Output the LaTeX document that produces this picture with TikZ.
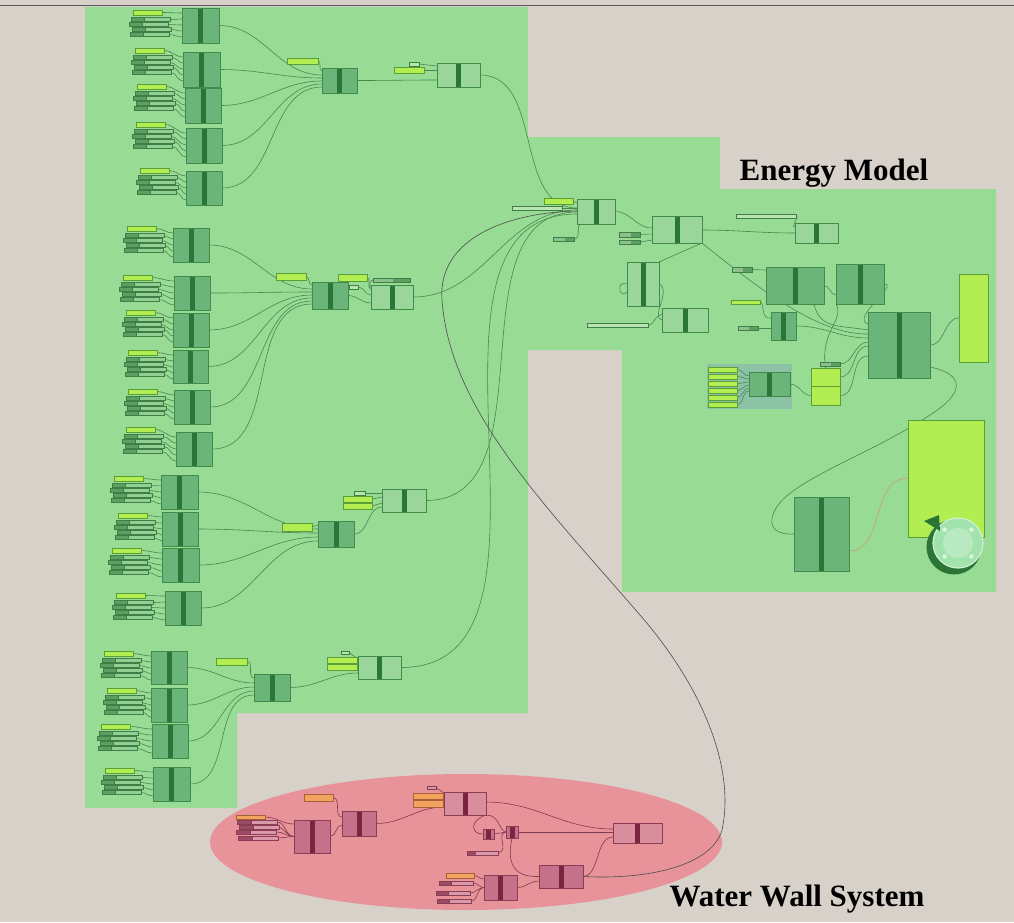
\documentclass[tikz,border=0pt]{standalone}
\usepackage{fontspec}
\setmainfont{Liberation Serif}
\usetikzlibrary{calc}
\definecolor{bgc}{HTML}{D7D1CA}
\definecolor{grpc}{HTML}{97DB95}
\definecolor{redc}{HTML}{E8939A}
\definecolor{tealc}{HTML}{8CC2A6}
\definecolor{cdk}{HTML}{6BB47A}
\definecolor{clt}{HTML}{9AD69A}
\definecolor{cbd}{HTML}{3F8C4A}
\definecolor{cbar}{HTML}{2B7636}
\definecolor{ylw}{HTML}{B2EE52}
\definecolor{ybd}{HTML}{5A9F36}
\definecolor{pdk}{HTML}{5C9F62}
\definecolor{plt}{HTML}{92CF92}
\definecolor{pbd}{HTML}{3F7F46}
\definecolor{wcol}{HTML}{4A8650}
\definecolor{rdk}{HTML}{C57189}
\definecolor{rlt}{HTML}{D98E9E}
\definecolor{rbd}{HTML}{8A3D55}
\definecolor{rbarc}{HTML}{7A2540}
\definecolor{orgc}{HTML}{F2A35E}
\definecolor{obd}{HTML}{A8603A}
\definecolor{rpdk}{HTML}{9C4B65}
\definecolor{rplt}{HTML}{D89AAA}
\definecolor{rwcol}{HTML}{7E3A4E}
\definecolor{palec}{HTML}{B9E6B0}
\definecolor{tanc}{HTML}{C9A46A}
\definecolor{dialc}{HTML}{A2E2AC}
\pgfdeclarelayer{back}
\pgfdeclarelayer{wires}
\pgfsetlayers{back,wires,main}
\newcommand\gnode[6]{\node[#6, minimum width={((#4)-(#2))*1pt}, minimum height={((#5)-(#3))*1pt}] (#1) at ({((#2)+(#4))/2},{((#3)+(#5))/2}) {};}
\newcommand\ins[3]{%
 \begin{pgfonlayer}{wires}
 \draw[wire] ({#1+29},{#2+2.5}) to[out=0,in=180] ([yshift=-5pt]#3.north west);
 \foreach \k/\o in {0/-2,1/-4,2/-1,3/-3}{%
   \draw[wire] ({#1+\o+39},{#2+9.5+5*\k}) to[out=0,in=180] ([yshift={-(11+6*\k)*1pt}]#3.north west);}
 \end{pgfonlayer}
 \foreach \k/\o in {0/-2,1/-4,2/-1,3/-3}{%
   \draw[pillA] ({#1+\o},{#2+7.5+5*\k}) rectangle ++(13,4);
   \draw[pillB] ({#1+\o+13},{#2+7.5+5*\k}) rectangle ++(26,4);}
 \draw[ybox] (#1,#2) rectangle ++(29,5);}
\begin{document}
\begin{tikzpicture}[x=1pt,y=-1pt,
  comp/.style={draw=cbd, fill=cdk, line width=0.7pt, inner sep=0pt, outer sep=0pt,
    path picture={\fill[cbar] ([xshift=-2.5pt]path picture bounding box.south) rectangle ([xshift=2.5pt]path picture bounding box.north);}},
  compl/.style={comp, fill=clt},
  rcomp/.style={draw=rbd, fill=rdk, line width=0.7pt, inner sep=0pt, outer sep=0pt,
    path picture={\fill[rbarc] ([xshift=-2.5pt]path picture bounding box.south) rectangle ([xshift=2.5pt]path picture bounding box.north);}},
  rcompl/.style={rcomp, fill=rlt},
  ybox/.style={draw=ybd, fill=ylw, line width=0.6pt, inner sep=0pt, outer sep=0pt},
  obox/.style={draw=obd, fill=orgc, line width=0.6pt, inner sep=0pt, outer sep=0pt},
  palebox/.style={draw=pbd, fill=palec, line width=0.5pt, inner sep=0pt, outer sep=0pt},
  pillbox/.style={draw=pbd, fill=pdk, line width=0.5pt, inner sep=0pt, outer sep=0pt,
    path picture={\fill[plt!80!gray] (path picture bounding box.south west) rectangle ($(path picture bounding box.north west)!0.55!(path picture bounding box.north east)$);}},
  rpillbox/.style={draw=rbd, fill=rplt, line width=0.5pt, inner sep=0pt, outer sep=0pt,
    path picture={\fill[rpdk] (path picture bounding box.south west) rectangle ($(path picture bounding box.north west)!0.3!(path picture bounding box.north east)$);}},
  smallbox/.style={draw=pbd, fill=palec, line width=0.5pt, inner sep=0pt, outer sep=0pt},
  rsmallbox/.style={draw=rbd, fill=rplt, line width=0.5pt, inner sep=0pt, outer sep=0pt},
  pillA/.style={draw=pbd, fill=pdk, line width=0.4pt},
  pillB/.style={draw=pbd, fill=plt, line width=0.4pt},
  rpillA/.style={draw=rbd, fill=rpdk, line width=0.4pt},
  rpillB/.style={draw=rbd, fill=rplt, line width=0.4pt},
  wire/.style={draw=wcol, line width=0.6pt},
  rwire/.style={draw=rwcol, line width=0.6pt},
  lwire/.style={draw=black!70, line width=0.6pt},
  lbl/.style={font=\fontsize{31}{31}\selectfont\bfseries, anchor=base, inner sep=0pt}]
\useasboundingbox (0,0) rectangle (1014,922);
\begin{pgfonlayer}{back}
\fill[bgc] (0,0) rectangle (1014,922);
\draw[black!65, line width=1.3pt] (0,5.5) -- (1014,5.5);
\fill[grpc] (85,7) -- (528,7) -- (528,137) -- (720,137) -- (720,189) -- (996,189) -- (996,592) -- (622,592) -- (622,350) -- (528,350) -- (528,713) -- (237,713) -- (237,808) -- (85,808) -- cycle;
\fill[redc] (466,842) ellipse [x radius=256, y radius=68];
\fill[tealc] (707,364) rectangle (792,409);
\end{pgfonlayer}

% ---------------- group A
\gnode{A1}{182}{8}{219}{43}{comp}
\gnode{A2}{183}{52}{220}{87}{comp}
\gnode{A3}{185}{88}{221}{123}{comp}
\gnode{A4}{186}{128}{222}{163}{comp}
\gnode{A5}{186}{171}{222}{205}{comp}
\ins{133}{10}{A1}
\ins{135}{48}{A2}
\ins{137}{84}{A3}
\ins{136}{122}{A4}
\ins{140}{168}{A5}
\gnode{P1}{287}{58}{318}{64}{ybox}
\gnode{M1}{322}{68}{357}{93}{comp}
\gnode{N1}{437}{63}{480}{87}{compl}
\gnode{NY1}{394}{67}{424}{73}{ybox}
\gnode{NS1}{409}{62}{419}{66}{smallbox}

% ---------------- group B
\gnode{B1}{173}{228}{209}{262}{comp}
\gnode{B2}{174}{276}{210}{310}{comp}
\gnode{B3}{173}{313}{209}{347}{comp}
\gnode{B4}{173}{350}{208}{383}{comp}
\gnode{B5}{174}{390}{210}{424}{comp}
\gnode{B6}{176}{432}{212}{466}{comp}
\ins{127}{226}{B1}
\ins{123}{275}{B2}
\ins{126}{310}{B3}
\ins{128}{350}{B4}
\ins{128}{389}{B5}
\ins{126}{427}{B6}
\gnode{P2}{276}{273}{306}{280}{ybox}
\gnode{M2}{312}{282}{348}{309}{comp}
\gnode{P2b}{338}{274}{367}{281}{ybox}
\gnode{S2}{349}{285}{358}{289}{smallbox}
\gnode{AR2}{373}{278}{410}{282}{pillbox}
\gnode{N2}{371}{285}{413}{309}{compl}

% ---------------- group C
\gnode{C1}{161}{475}{198}{509}{comp}
\gnode{C2}{162}{512}{198}{546}{comp}
\gnode{C3}{162}{548}{199}{582}{comp}
\gnode{C4}{165}{591}{201}{625}{comp}
\ins{114}{476}{C1}
\ins{118}{513}{C2}
\ins{112}{548}{C3}
\ins{116}{593}{C4}
\gnode{P3}{282}{523}{312}{531}{ybox}
\gnode{M3}{318}{521}{354}{547}{comp}
\gnode{N3}{382}{489}{426}{512}{compl}
\gnode{NY3a}{343}{496}{372}{502}{ybox}
\gnode{NY3b}{343}{503}{372}{509}{ybox}
\gnode{NS3}{354}{491}{365}{495}{smallbox}

% ---------------- group D
\gnode{D1}{151}{651}{187}{684}{comp}
\gnode{D2}{151}{688}{187}{722}{comp}
\gnode{D3}{152}{724}{188}{758}{comp}
\gnode{D4}{153}{767}{190}{801}{comp}
\ins{104}{651}{D1}
\ins{107}{688}{D2}
\ins{101}{724}{D3}
\ins{105}{768}{D4}
\gnode{P4}{216}{658}{247}{665}{ybox}
\gnode{M4}{254}{674}{290}{701}{comp}
\gnode{N4}{358}{656}{401}{679}{compl}
\gnode{NY4a}{327}{657}{357}{663}{ybox}
\gnode{NY4b}{327}{664}{357}{670}{ybox}
\gnode{NS4}{341}{651}{349}{654}{smallbox}

% ---------------- energy model
\gnode{E1}{577}{199}{615}{224}{compl}
\gnode{EY1}{544}{198}{573}{204}{ybox}
\gnode{EL1}{512}{206}{562}{210}{palebox}
\gnode{EP1}{553}{237}{574}{241}{pillbox}
\gnode{E2}{652}{216}{702}{243}{compl}
\gnode{EP2a}{619}{232}{640}{237}{pillbox}
\gnode{EP2b}{619}{240}{640}{244}{pillbox}
\gnode{E3}{795}{223}{838}{243}{compl}
\gnode{EL3}{736}{214}{796}{218}{palebox}
\gnode{E4}{627}{262}{659}{306}{compl}
\gnode{E5}{662}{308}{708}{332}{compl}
\gnode{EL5}{587}{323}{648}{327}{palebox}
\gnode{E6}{766}{267}{824}{304}{comp}
\gnode{EP6}{732}{267}{752}{272}{pillbox}
\gnode{E7}{836}{264}{884}{304}{comp}
\gnode{EY6}{731}{300}{760}{304}{ybox}
\gnode{E8}{771}{312}{796}{340}{comp}
\gnode{EP8}{738}{326}{758}{330}{pillbox}
\gnode{E9}{868}{312}{930}{378}{comp}
\gnode{Y1}{959}{274}{988}{362}{ybox}
\foreach \i in {0,...,5}{\gnode{SB\i}{708}{367+7*\i}{737}{372+7*\i}{ybox}}
\gnode{E11}{749}{372}{790}{396}{comp}
\gnode{YB1}{811}{368}{840}{386}{ybox}
\gnode{YB2}{811}{386}{840}{405}{ybox}
\gnode{EPY}{820}{362}{840}{366}{pillbox}
\gnode{Y2}{908}{420}{984}{537}{ybox}
\gnode{E10}{794}{497}{849}{571}{comp}
\fill[cbar] (954,547) circle (27.5);
\node[circle, fill=dialc, draw=white!50!dialc, line width=1.2pt, minimum size=50pt, inner sep=0pt] (dial) at (958,543) {};
\fill[white!25!dialc] (dial.center) circle (15);
\fill[cbar] (924,521) -- (939,515) -- (940,531) -- cycle;
\foreach \a in {45,135,225,315}{\fill[white!60!dialc] ($(dial.center)+(\a:19)$) circle (2.3);}

% ---------------- water wall
\gnode{W1}{294}{820}{330}{853}{rcomp}
\gnode{WO1}{304}{794}{333}{801}{obox}
\gnode{W2}{342}{811}{376}{836}{rcomp}
\gnode{W3}{444}{792}{486}{815}{rcompl}
\gnode{WO3a}{413}{793}{443}{799}{obox}
\gnode{WO3b}{413}{800}{443}{807}{obox}
\gnode{WS3}{427}{786}{436}{789}{rsmallbox}
\gnode{W4}{483}{829}{494}{839}{rcomp}
\gnode{W5}{506}{826}{518}{838}{rcomp}
\gnode{WP5}{467}{851}{498}{855}{rpillbox}
\gnode{W6}{613}{823}{662}{843}{rcompl}
\gnode{W7}{539}{865}{583}{888}{rcomp}
\gnode{W8}{484}{875}{517}{900}{rcomp}
\gnode{WI1}{236}{815}{265}{819}{obox}
\gnode{WI8}{446}{873}{474}{878}{obox}
\foreach \y/\o in {820/0,825/2,830/-1,836/1}{%
  \draw[rpillA] ({237+\o},\y) rectangle ++(14,4);
  \draw[rpillB] ({251+\o},\y) rectangle ++(26,4);}
\foreach \y/\o in {881/0,891/-3,899/-2}{%
  \draw[rpillA] ({439+\o},\y) rectangle ++(12,4);
  \draw[rpillB] ({451+\o},\y) rectangle ++(22,4);}

% ---------------- labels
\node[lbl] (lblE) at (834,180) {Energy Model};
\node[lbl] (lblW) at (797,906) {Water Wall System};

% ---------------- wires
\begin{pgfonlayer}{wires}
% group A
\draw[wire] (P1.east) to[out=0,in=180] ([yshift=-3pt]M1.north west);
\draw[wire] (A1.east) to[out=0,in=180] ([yshift=-7pt]M1.north west);
\draw[wire] (A2.east) to[out=0,in=180] ([yshift=-10pt]M1.north west);
\draw[wire] (A3.east) to[out=0,in=180] ([yshift=-13pt]M1.north west);
\draw[wire] (A4.east) to[out=0,in=180] ([yshift=-16pt]M1.north west);
\draw[wire] (A5.east) to[out=0,in=180] ([yshift=-19pt]M1.north west);
\draw[wire] (M1.east) to[out=0,in=180] ([yshift=-17pt]N1.north west);
\draw[wire] (NY1.east) -- ([yshift=-7pt]N1.north west);
\draw[wire] (NS1.east) -- ([yshift=-3pt]N1.north west);
\draw[wire] (N1.east) to[out=0,in=180] ([yshift=-9pt]E1.north west);
% group B
\draw[wire] (P2.east) to[out=0,in=180] ([yshift=-3pt]M2.north west);
\draw[wire] (B1.east) to[out=0,in=180] ([yshift=-7pt]M2.north west);
\draw[wire] (B2.east) to[out=0,in=180] ([yshift=-10pt]M2.north west);
\draw[wire] (B3.east) to[out=0,in=180] ([yshift=-13pt]M2.north west);
\draw[wire] (B4.east) to[out=0,in=180] ([yshift=-16pt]M2.north west);
\draw[wire] (B5.east) to[out=0,in=180] ([yshift=-19pt]M2.north west);
\draw[wire] (B6.east) to[out=0,in=180] ([yshift=-22pt]M2.north west);
\draw[wire] (M2.east) to[out=0,in=180] ([yshift=-18pt]N2.north west);
\draw[wire] (P2b.east) to[out=0,in=180] ([yshift=-4pt]N2.north west);
\draw[wire] (S2.east) to[out=0,in=180] ([yshift=-10pt]N2.north west);
\draw[wire] (AR2.west) to[out=180,in=180] ([yshift=-2pt]N2.north west);
\draw[wire] (N2.east) to[out=0,in=180] ([yshift=-11pt]E1.north west);
% group C
\draw[wire] (P3.east) to[out=0,in=180] ([yshift=-4pt]M3.north west);
\draw[wire] (C1.east) to[out=0,in=180] ([yshift=-8pt]M3.north west);
\draw[wire] (C2.east) to[out=0,in=180] ([yshift=-12pt]M3.north west);
\draw[wire] (C3.east) to[out=0,in=180] ([yshift=-16pt]M3.north west);
\draw[wire] (C4.east) to[out=0,in=180] ([yshift=-20pt]M3.north west);
\draw[wire] (M3.east) to[out=0,in=180] ([yshift=-18pt]N3.north west);
\draw[wire] (NY3a.east) -- ([yshift=-8pt]N3.north west);
\draw[wire] (NY3b.east) -- ([yshift=-14pt]N3.north west);
\draw[wire] (NS3.east) -- ([yshift=-4pt]N3.north west);
\draw[wire] (N3.east) to[out=0,in=180] ([yshift=-13pt]E1.north west);
% group D
\draw[wire] (P4.east) to[out=0,in=180] ([yshift=-4pt]M4.north west);
\draw[wire] (D1.east) to[out=0,in=180] ([yshift=-9pt]M4.north west);
\draw[wire] (D2.east) to[out=0,in=180] ([yshift=-13pt]M4.north west);
\draw[wire] (D3.east) to[out=0,in=180] ([yshift=-17pt]M4.north west);
\draw[wire] (D4.east) to[out=0,in=180] ([yshift=-21pt]M4.north west);
\draw[wire] (M4.east) to[out=0,in=180] ([yshift=-17pt]N4.north west);
\draw[wire] (NY4a.east) -- ([yshift=-6pt]N4.north west);
\draw[wire] (NY4b.east) -- ([yshift=-12pt]N4.north west);
\draw[wire] (NS4.east) -- ([yshift=-3pt]N4.north west);
\draw[wire] (N4.east) to[out=0,in=180] ([yshift=-15pt]E1.north west);
% long wire to water wall
\draw[lwire] (W7.east) .. controls (650,880) and (712,865) .. (722,830)
  .. controls (735,770) and (705,690) .. (640,615)
  .. controls (545,505) and (450,410) .. (442,300)
  .. controls (437,235) and (515,212) .. ([yshift=-12pt]E1.north west);
% energy model
\draw[wire] (EY1.east) -- ([yshift=-4pt]E1.north west);
\draw[wire] (EL1.east) -- ([yshift=-9pt]E1.north west);
\draw[wire] (EP1.east) .. controls (582,239) and (575,226) .. ([xshift=4pt]E1.south west);
\draw[wire] (E1.east) to[out=0,in=180] ([yshift=-12pt]E2.north west);
\draw[wire] (EP2a.east) -- ([yshift=-18pt]E2.north west);
\draw[wire] (EP2b.east) -- ([yshift=-24pt]E2.north west);
\draw[wire] ([yshift=-14pt]E2.north east) to[out=0,in=180] ([yshift=-10pt]E3.north west);
\draw[wire] (EL3.east) .. controls (800,216) and (790,228) .. ([yshift=-4pt]E3.north west);
\draw[wire] (E2.south east) -- (E4.north east);
\draw[wire] (E2.south east) .. controls (760,290) and (820,335) .. ([yshift=-22pt]E9.north west);
\draw[wire] (E4.east) .. controls (672,290) and (650,318) .. (E5.west);
\draw[wire] (E4.west) .. controls (615,280) and (620,300) .. ([yshift=-30pt]E4.north west);
\draw[wire] (EL5.east) .. controls (655,325) and (652,318) .. ([yshift=-6pt]E5.north west);
\draw[wire] (EP6.east) -- ([yshift=-3pt]E6.north west);
\draw[wire] (EY6.east) .. controls (765,302) and (760,320) .. ([yshift=-6pt]E8.north west);
\draw[wire] (E6.east) to[out=0,in=180] ([yshift=-31pt]E7.north west);
\draw[wire] (E7.east) .. controls (900,284) and (850,318) .. ([yshift=-12pt]E9.north west);
\draw[wire] ([xshift=-10pt]E6.south east) .. controls (820,330) and (840,325) .. ([yshift=-18pt]E9.north west);
\draw[wire] (EP8.east) -- ([yshift=-16pt]E8.north west);
\draw[wire] (E8.east) to[out=0,in=180] ([yshift=-26pt]E9.north west);
\foreach \i in {0,...,5}{\draw[wire] (SB\i.east) to[out=0,in=180] ([yshift={-(4+3*\i)*1pt}]E11.north west);}
\draw[wire] (E11.east) to[out=0,in=180] (YB2.west);
\draw[wire] (YB1.east) to[out=0,in=180] ([yshift=-34pt]E9.north west);
\draw[wire] (YB2.east) to[out=0,in=180] ([yshift=-44pt]E9.north west);
\draw[wire] (EPY.east) to[out=0,in=180] ([yshift=-30pt]E9.north west);
\draw[wire] (YB1.north) .. controls (820,330) and (845,320) .. (E7.south west);
\draw[wire] (E9.east) to[out=0,in=180] (Y1.west);
\draw[wire] ([yshift=-55pt]E9.north east) .. controls (968,375) and (962,395) .. (930,415)
  .. controls (870,455) and (790,480) .. (775,510)
  .. controls (765,530) and (780,535) .. (E10.west);
\draw[draw=tanc, line width=0.7pt] ([yshift=-54pt]E10.north east) .. controls (885,551) and (870,478) .. ([yshift=-58pt]Y2.north west);
\end{pgfonlayer}
\begin{pgfonlayer}{wires}
% water wall
\foreach \y in {822,827,832,838}{\draw[rwire] (277,\y) to[out=0,in=180] (W1.west);}
\draw[rwire] (WI1.east) to[out=0,in=180] ([yshift=-4pt]W1.north west);
\draw[rwire] (W1.east) to[out=0,in=180] ([yshift=-14pt]W2.north west);
\draw[rwire] (WO1.east) to[out=0,in=180] ([yshift=-6pt]W2.north west);
\draw[rwire] (W2.east) to[out=0,in=180] ([yshift=-15pt]W3.north west);
\draw[rwire] (WO3a.east) -- ([yshift=-4pt]W3.north west);
\draw[rwire] (WO3b.east) -- ([yshift=-11pt]W3.north west);
\draw[rwire] (WS3.east) -- ([yshift=-1pt]W3.north west);
\draw[rwire] ([yshift=-10pt]W3.north east) to[out=0,in=180] ([yshift=-6pt]W6.north west);
\draw[rwire] (W3.south east) .. controls (470,820) and (470,834) .. (W4.west);
\draw[rwire] (W4.east) -- (W5.west);
\draw[rwire] (W3.south east) .. controls (500,815) and (498,830) .. (W5.west);
\draw[rwire] (W5.east) -- ([yshift=-9pt]W6.north west);
\draw[rwire] (WP5.east) .. controls (510,850) and (495,834) .. (W5.west);
\draw[rwire] (W5.south) .. controls (505,870) and (520,877) .. (W7.west);
\draw[rwire] (W7.east) .. controls (600,876) and (595,837) .. ([yshift=-14pt]W6.north west);
\draw[rwire] (W8.east) to[out=0,in=180] ([yshift=-16pt]W7.north west);
\draw[rwire] (WI8.east) to[out=0,in=180] ([yshift=-4pt]W8.north west);
\foreach \y/\x in {883/473,893/470,901/471}{\draw[rwire] (\x,\y) to[out=0,in=180] (W8.west);}
\end{pgfonlayer}
\end{tikzpicture}
\end{document}
